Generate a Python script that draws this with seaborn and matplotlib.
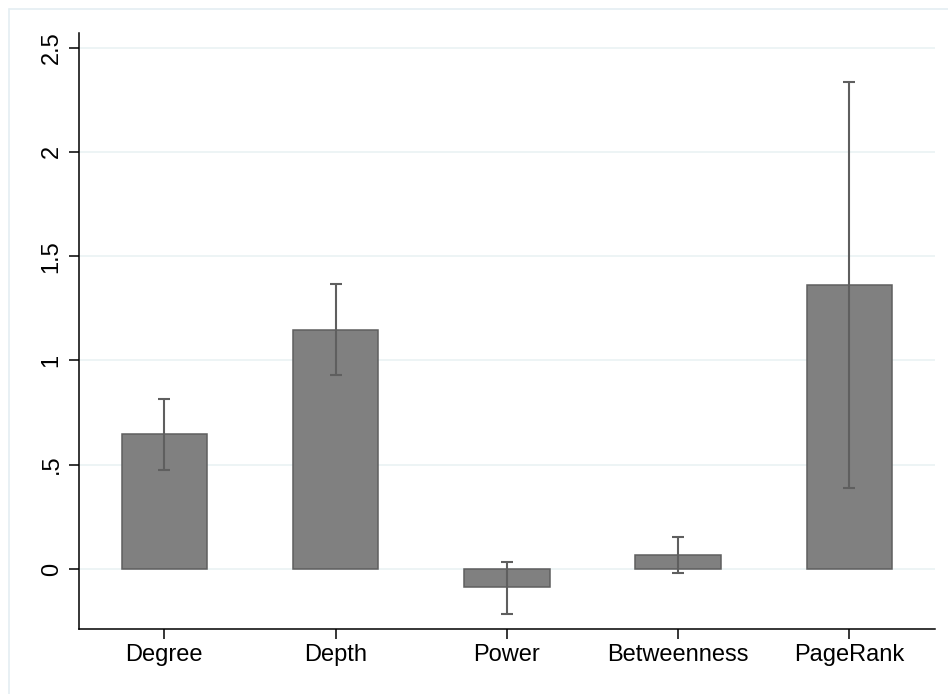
import matplotlib
matplotlib.use("Agg")
import matplotlib.pyplot as plt
import seaborn as sns
import pandas as pd
from matplotlib.lines import Line2D

categories = ["Degree", "Depth", "Power", "Betweenness", "PageRank"]
means = [0.646, 1.146, -0.088, 0.066, 1.361]
ci_low = [0.476, 0.930, -0.216, -0.019, 0.388]
ci_high = [0.815, 1.366, 0.035, 0.153, 2.337]
ytick_vals = [0, 0.5, 1, 1.5, 2, 2.5]
ytick_labels = ["0", ".5", "1", "1.5", "2", "2.5"]

sns.set_theme(style="white")
plt.rcParams['font.family'] = ['Liberation Sans', 'DejaVu Sans']

df = pd.DataFrame({"cat": categories, "mean": means})

fig = plt.figure(figsize=(9.48, 6.94), dpi=100)
ax = fig.add_axes([78.7 / 948, 1 - 629 / 694, (935 - 78.7) / 948, (629 - 33) / 694])

sns.barplot(data=df, x="cat", y="mean", order=categories, color="#808080",
            saturation=1, width=0.5, edgecolor="#5f5f5f", linewidth=1.1,
            errorbar=None, ax=ax, zorder=2)

xs = list(range(len(categories)))
yerr = [[m - l for m, l in zip(means, ci_low)], [h - m for m, h in zip(means, ci_high)]]
ax.errorbar(xs, means, yerr=yerr, fmt="none", ecolor="#5f5f5f", elinewidth=1.5,
            capsize=4.5, capthick=1.5, zorder=3)

ax.set_xlim(-0.5, 4.5)
ax.set_ylim(-0.288, 2.57)
ax.set_yticks(ytick_vals)
ax.set_yticklabels(ytick_labels, rotation=90, va="center")
ax.yaxis.grid(True, color="#eaf2f3", linewidth=1.2, zorder=0)
ax.set_axisbelow(True)
ax.set_xlabel("")
ax.set_ylabel("")

for s in ["top", "right"]:
    ax.spines[s].set_visible(False)
for s in ["left", "bottom"]:
    ax.spines[s].set_color("black")
    ax.spines[s].set_linewidth(1.1)

ax.tick_params(axis="both", which="major", direction="out", length=7, width=1.1,
               color="black", labelsize=17, labelcolor="black", left=True, bottom=True)
ax.tick_params(axis="y", pad=4.5)
ax.tick_params(axis="x", pad=4)

# outer light frame
fig.add_artist(Line2D([9 / 948, 9 / 948], [0, 1 - 9 / 694], transform=fig.transFigure,
                      color="#e4eef2", linewidth=1.2))
fig.add_artist(Line2D([9 / 948, 1], [1 - 9 / 694, 1 - 9 / 694], transform=fig.transFigure,
                      color="#e4eef2", linewidth=1.2))

fig.savefig("out.png", dpi=100)
